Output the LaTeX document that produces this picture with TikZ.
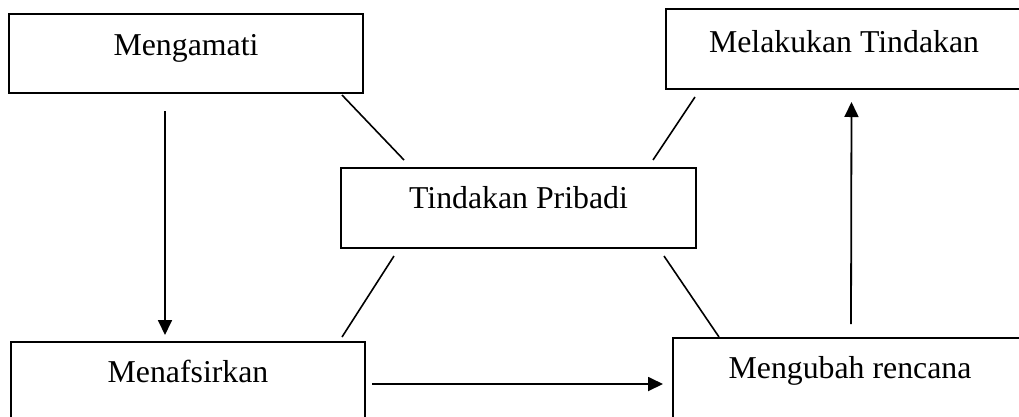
\documentclass[tikz,border=0pt]{standalone}
\usepackage{fontspec}
\setmainfont{Liberation Serif}
\usetikzlibrary{arrows.meta}
\begin{document}
\begin{tikzpicture}[x=1pt,y=-1pt,
  box/.style={draw,line width=1.8pt,inner sep=0pt,outer sep=0pt,anchor=base,
    font=\fontsize{31.8}{38}\selectfont},
  link/.style={line width=1.6pt},
  flow/.style={line width=1.8pt,-{Triangle[length=15pt,width=14pt]}}]
\useasboundingbox (0,0) rectangle (1019,416);
\clip (0,0) rectangle (1019,416);

% boxes, text sitting in the upper part of each
\node[box,minimum width=354pt,text height=41pt,text depth=38pt] (obs) at (186,55) {Mengamati};
\node[box,minimum width=356pt,text height=43pt,text depth=37pt] (act) at (844,52) {Melakukan Tindakan};
\node[box,minimum width=355pt,text height=40pt,text depth=40pt] (mid) at (518.5,208) {Tindakan Pribadi};
\node[box,minimum width=354pt,text height=40pt,text depth=40pt] (int) at (188,382) {Menafsirkan};
\node[box,minimum width=354pt,text height=40pt,text depth=44pt] (plan) at (850,378) {Mengubah rencana};

% plain links round the centre box
\draw[link] ([shift={(-21,2)}]obs.south east) -- ([shift={(63,-8)}]mid.north west);
\draw[link] ([shift={(29,8)}]act.south west) -- ([shift={(-43,-8)}]mid.north east);
\draw[link] ([shift={(53,8)}]mid.south west) -- ([shift={(-23,-5)}]int.north east);
\draw[link] ([shift={(-32,8)}]mid.south east) -- ([shift={(46,-1)}]plan.north west);

% the cycle of steps
\draw[flow] ([shift={(-21,18)}]obs.south) -- ([shift={(-23,-7)}]int.north);
\draw[flow] ([shift={(7,42)}]int.north east) -- ([shift={(-10,46)}]plan.north west);
\draw[flow] ([shift={(1,-14)}]plan.north) -- ([shift={(7.5,13)}]act.south);
\end{tikzpicture}
\end{document}
